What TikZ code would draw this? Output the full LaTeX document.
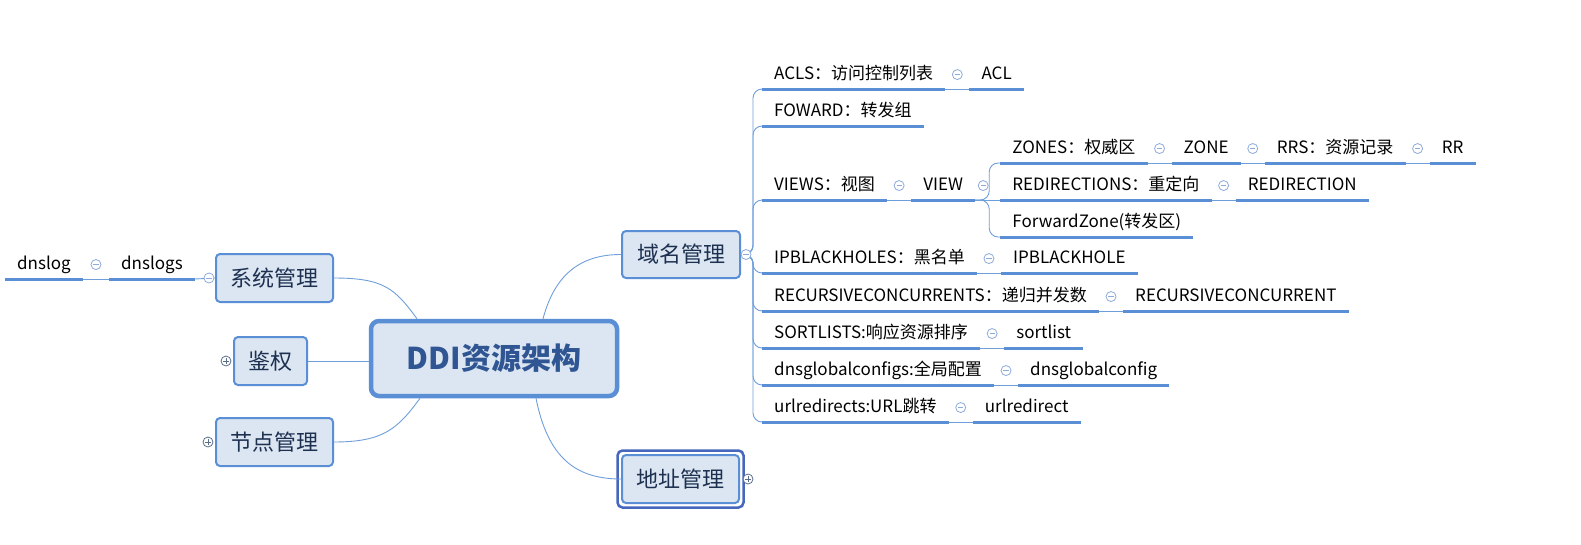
\documentclass[tikz,border=0pt]{standalone}
\usepackage{fontspec}
\setmainfont{Noto Sans CJK SC}
\usetikzlibrary{positioning,calc}
\definecolor{lineblue}{HTML}{5B8FD5}
\definecolor{linkblue}{HTML}{6F9FDB}
\definecolor{boxfill}{HTML}{DCE6F2}
\definecolor{boxtext}{HTML}{1D3050}
\definecolor{roottext}{HTML}{2F5592}
\definecolor{selblue}{HTML}{4767BD}
\definecolor{mkminus}{HTML}{8EAADB}
\definecolor{mkplus}{HTML}{5A6E8C}
\tikzset{
  topic/.style={font=\fontsize{17}{20}\selectfont,inner xsep=12pt,inner ysep=6pt,
    text height=13pt,text depth=3.5pt},
  uline/.style={draw=lineblue,line width=3pt},
  link/.style={draw=linkblue,line width=0.9pt},
  mainbox/.style={draw=lineblue,fill=boxfill,line width=2pt,rounded corners=4pt,
    text=boxtext,font=\fontsize{22}{26}\selectfont,minimum height=48pt},
  rootbox/.style={draw=lineblue,fill=boxfill,line width=4.5pt,rounded corners=8pt,
    text=roottext,font=\fontsize{30}{34}\selectfont\bfseries,
    minimum width=246pt,minimum height=75pt},
  minus/.style={circle,draw=mkminus,fill=white,minimum size=10pt,inner sep=0pt,
    line width=0.8pt,path picture={\draw[mkminus,line width=0.9pt]
      ([xshift=-2.6pt]path picture bounding box.center) --
      ([xshift=2.6pt]path picture bounding box.center);}},
  plus/.style={circle,draw=mkplus,fill=white,minimum size=10pt,inner sep=0pt,
    line width=0.8pt,path picture={\draw[mkplus,line width=0.9pt]
      ([xshift=-2.6pt]path picture bounding box.center) --
      ([xshift=2.6pt]path picture bounding box.center)
      ([yshift=-2.6pt]path picture bounding box.center) --
      ([yshift=2.6pt]path picture bounding box.center);}}
}
\begin{document}
\begin{tikzpicture}[x=1pt,y=-1pt]
\fill[white] (0,0) rectangle (1581,544);
\useasboundingbox (0,0) rectangle (1581,544);

% central topic and main branches
\node[rootbox] (root) at (494,358.5) {DDI资源架构};
\node[mainbox,minimum width=117pt] (sys) at (274.5,278) {系统管理};
\node[mainbox,minimum width=73pt] (auth) at (270.5,361) {鉴权};
\node[mainbox,minimum width=117pt] (nodes) at (274.5,442) {节点管理};
\node[mainbox,minimum width=118pt,minimum height=47pt] (dom) at (681,254.5) {域名管理};
\node[mainbox,minimum width=117pt] (addr) at (680.5,479) {地址管理};
\draw[selblue,line width=2.5pt,rounded corners=5pt]
  ($(addr.south west)+(-3.5,3.5)$) rectangle ($(addr.north east)+(3.5,-3.5)$);

\draw[link] (sys.east) .. controls +(50,0) and +(-22,-30) .. ([xshift=-77pt]root.north);
\draw[link] (auth.east) -- (auth.east -| root.west);
\draw[link] (nodes.east) .. controls +(50,0) and +(-22,30) .. ([xshift=-74pt]root.south);
\draw[link] ([xshift=49pt]root.north) .. controls +(12,-45) and +(-40,0) .. (dom.west);
\draw[link] ([xshift=42pt]root.south) .. controls +(12,60) and +(-45,0) .. (addr.west);

% system branch
\node[topic,anchor=south west] (dnslog) at (5,279) {dnslog};
\node[topic,right=26pt of dnslog] (dnslogs) {dnslogs};
\draw[link] (dnslogs.south east) -- (sys.west);

% domain branch
\node[topic,anchor=south west] (acls) at (762,89) {ACLS：访问控制列表};
\node[topic,right=24pt of acls] (acl) {ACL};
\node[topic,anchor=south west] (foward) at (762,126) {FOWARD：转发组};
\node[topic,anchor=south west] (views) at (762,200) {VIEWS：视图};
\node[topic,right=24pt of views] (view) {VIEW};
\node[topic,anchor=south west] (zones) at ($(view.south east)+(25,-37)$) {ZONES：权威区};
\node[topic,right=24pt of zones] (zone) {ZONE};
\node[topic,right=24pt of zone] (rrs) {RRS：资源记录};
\node[topic,right=24pt of rrs] (rr) {RR};
\node[topic,anchor=south west] (redirs) at ($(view.south east)+(25,0)$) {REDIRECTIONS：重定向};
\node[topic,right=24pt of redirs] (redir) {REDIRECTION};
\node[topic,anchor=south west] (fwdzone) at ($(view.south east)+(25,37)$) {ForwardZone(转发区)};
\node[topic,anchor=south west] (ipbls) at (762,273) {IPBLACKHOLES：黑名单};
\node[topic,right=24pt of ipbls] (ipbl) {IPBLACKHOLE};
\node[topic,anchor=south west] (recs) at (762,311) {RECURSIVECONCURRENTS：递归并发数};
\node[topic,right=24pt of recs] (rec) {RECURSIVECONCURRENT};
\node[topic,anchor=south west] (sorts) at (762,348) {SORTLISTS:响应资源排序};
\node[topic,right=24pt of sorts] (sort) {sortlist};
\node[topic,anchor=south west] (dnsgs) at (762,385) {dnsglobalconfigs:全局配置};
\node[topic,right=24pt of dnsgs] (dnsg) {dnsglobalconfig};
\node[topic,anchor=south west] (urls) at (762,422) {urlredirects:URL跳转};
\node[topic,right=24pt of urls] (url) {urlredirect};

\foreach \n in {acls,foward,views,ipbls,recs,sorts,dnsgs,urls}
  \draw[link,rounded corners=9pt] (dom.east) -- ++(12,0) |- (\n.south west);
\foreach \n in {zones,fwdzone}
  \draw[link,rounded corners=9pt] (view.south east) -- ++(14,0) |- (\n.south west);
\draw[link] (view.south east) -- (redirs.south west);

% topic to subtopic links
\foreach \a/\b in {dnslog/dnslogs,acls/acl,views/view,zones/zone,zone/rrs,rrs/rr,
    redirs/redir,ipbls/ipbl,recs/rec,sorts/sort,dnsgs/dnsg,urls/url} {
  \draw[link] (\a.south east) -- (\b.south west);
  \node[minus] at ($(\a.east)!0.5!(\b.west)$) {};
}

% underlines
\foreach \n in {dnslog,dnslogs,acls,acl,foward,views,view,zones,zone,rrs,rr,redirs,
    redir,fwdzone,ipbls,ipbl,recs,rec,sorts,sort,dnsgs,dnsg,urls,url}
  \draw[uline] (\n.south west) -- (\n.south east);

% collapse markers
\node[minus] at ([xshift=-6pt]sys.west) {};
\node[minus] at ([xshift=5pt]dom.east) {};
\node[minus] at ([xshift=8pt]view.east) {};
\node[plus] at ([xshift=-7pt]auth.west) {};
\node[plus] at ([xshift=-7pt]nodes.west) {};
\node[plus] at ([xshift=8pt]addr.east) {};
\end{tikzpicture}
\end{document}
